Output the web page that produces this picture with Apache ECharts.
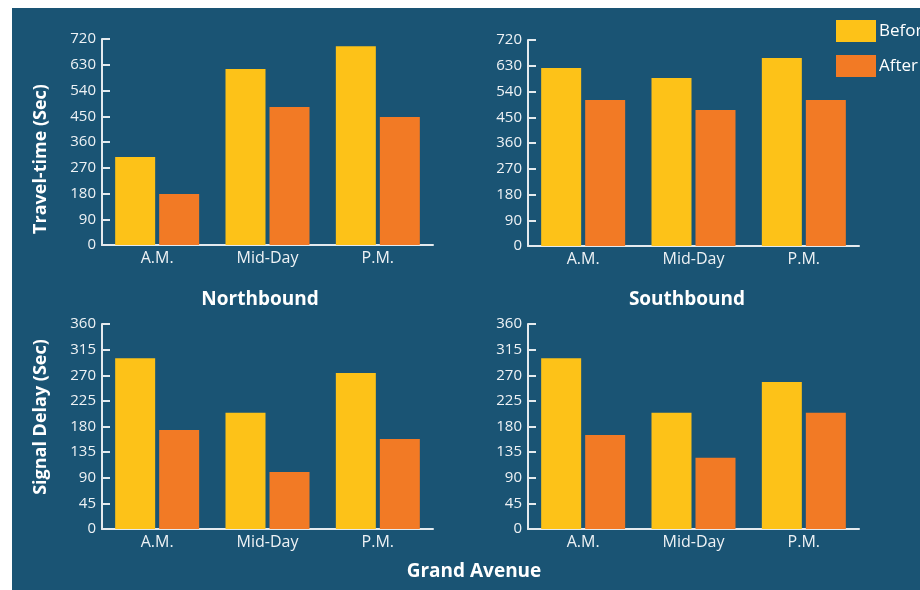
<!DOCTYPE html>
<html>
<head>
<meta charset="utf-8">
<script src="https://cdn.jsdelivr.net/npm/echarts@6/dist/echarts.min.js"></script>
<style>
  html, body { margin: 0; padding: 0; background: #ffffff; }
  #chart { position: absolute; left: 0; top: 0; width: 920px; height: 590px; }
</style>
</head>
<body>
<div id="chart"></div>
<script>
// Time-of-day periods along each x axis
const periods = ['A.M.', 'Mid-Day', 'P.M.'];

// Travel time (seconds)
const travelNorthBefore = [308, 615, 695];
const travelNorthAfter  = [178, 482, 447];
const travelSouthBefore = [622, 587, 657];
const travelSouthAfter  = [510, 475, 510];

// Signal delay (seconds)
const delayNorthBefore = [300, 204, 274];
const delayNorthAfter  = [174, 100, 158];
const delaySouthBefore = [300, 204, 258];
const delaySouthAfter  = [165, 125, 204];

// Value-axis ranges
const travelMax = 720, travelStep = 90;
const delayMax = 360, delayStep = 45;

const COLOR_BEFORE = '#fdc218';
const COLOR_AFTER = '#f27a25';
const BG = '#1a5474';
const AXIS = '#e4eaee';
const FONT = '"Open Sans", "Noto Sans", sans-serif';

const chart = echarts.init(document.getElementById('chart'), null, { renderer: 'canvas' });

const grids = [
  { left: 102, top: 39, width: 331, height: 206 },
  { left: 528, top: 40, width: 331, height: 206 },
  { left: 102, top: 324, width: 331, height: 205 },
  { left: 528, top: 324, width: 331, height: 205 }
];

function xAxisFor(i) {
  return {
    type: 'category', gridIndex: i, data: periods,
    axisLine: { lineStyle: { color: AXIS, width: 2 } },
    axisTick: { inside: true, length: 5, lineStyle: { color: AXIS, width: 2 } },
    axisLabel: { color: '#eef2f5', fontFamily: FONT, fontSize: 16, margin: 5 },
    splitLine: { show: false }
  };
}
function yAxisFor(i, max, step) {
  return {
    type: 'value', gridIndex: i, min: 0, max: max, interval: step,
    axisLine: { show: true, lineStyle: { color: AXIS, width: 2 } },
    axisTick: { show: true, inside: true, length: 8, lineStyle: { color: AXIS, width: 2 } },
    axisLabel: { color: '#eef2f5', fontFamily: FONT, fontSize: 15, margin: 6 },
    splitLine: { show: false }
  };
}
function barPair(i, before, after) {
  const common = { type: 'bar', xAxisIndex: i, yAxisIndex: i, barWidth: 40, barGap: '10%', silent: true };
  return [
    Object.assign({ name: 'Before', data: before, itemStyle: { color: COLOR_BEFORE } }, common),
    Object.assign({ name: 'After', data: after, itemStyle: { color: COLOR_AFTER } }, common)
  ];
}

function label(text, x, y, size, rotate) {
  return {
    type: 'text', x: x, y: y, rotation: rotate || 0,
    style: {
      text: text, fill: '#ffffff', font: 'bold ' + size + 'px ' + FONT,
      textAlign: 'center', textVerticalAlign: 'middle'
    }
  };
}

chart.setOption({
  animation: false,
  backgroundColor: '#ffffff',
  grid: grids,
  xAxis: [0, 1, 2, 3].map(xAxisFor),
  yAxis: [
    yAxisFor(0, travelMax, travelStep),
    yAxisFor(1, travelMax, travelStep),
    yAxisFor(2, delayMax, delayStep),
    yAxisFor(3, delayMax, delayStep)
  ],
  legend: {
    orient: 'vertical', left: 836, top: 20, padding: 0,
    itemWidth: 40, itemHeight: 22, itemGap: 13,
    icon: 'rect',
    data: ['Before', 'After'],
    textStyle: { color: '#ffffff', fontFamily: FONT, fontSize: 17, padding: [0, 0, 0, -2] },
    selectedMode: false
  },
  graphic: [
    { type: 'rect', z: -10, shape: { x: 12, y: 8, width: 908, height: 582 }, style: { fill: BG } },
    label('Travel-time (Sec)', 41, 159, 18, Math.PI / 2),
    label('Signal Delay (Sec)', 41, 417, 18, Math.PI / 2),
    label('Northbound', 260, 300, 19),
    label('Southbound', 687, 300, 19),
    label('Grand Avenue', 474, 572, 19)
  ],
  series: [].concat(
    barPair(0, travelNorthBefore, travelNorthAfter),
    barPair(1, travelSouthBefore, travelSouthAfter),
    barPair(2, delayNorthBefore, delayNorthAfter),
    barPair(3, delaySouthBefore, delaySouthAfter)
  )
});
</script>
</body>
</html>
